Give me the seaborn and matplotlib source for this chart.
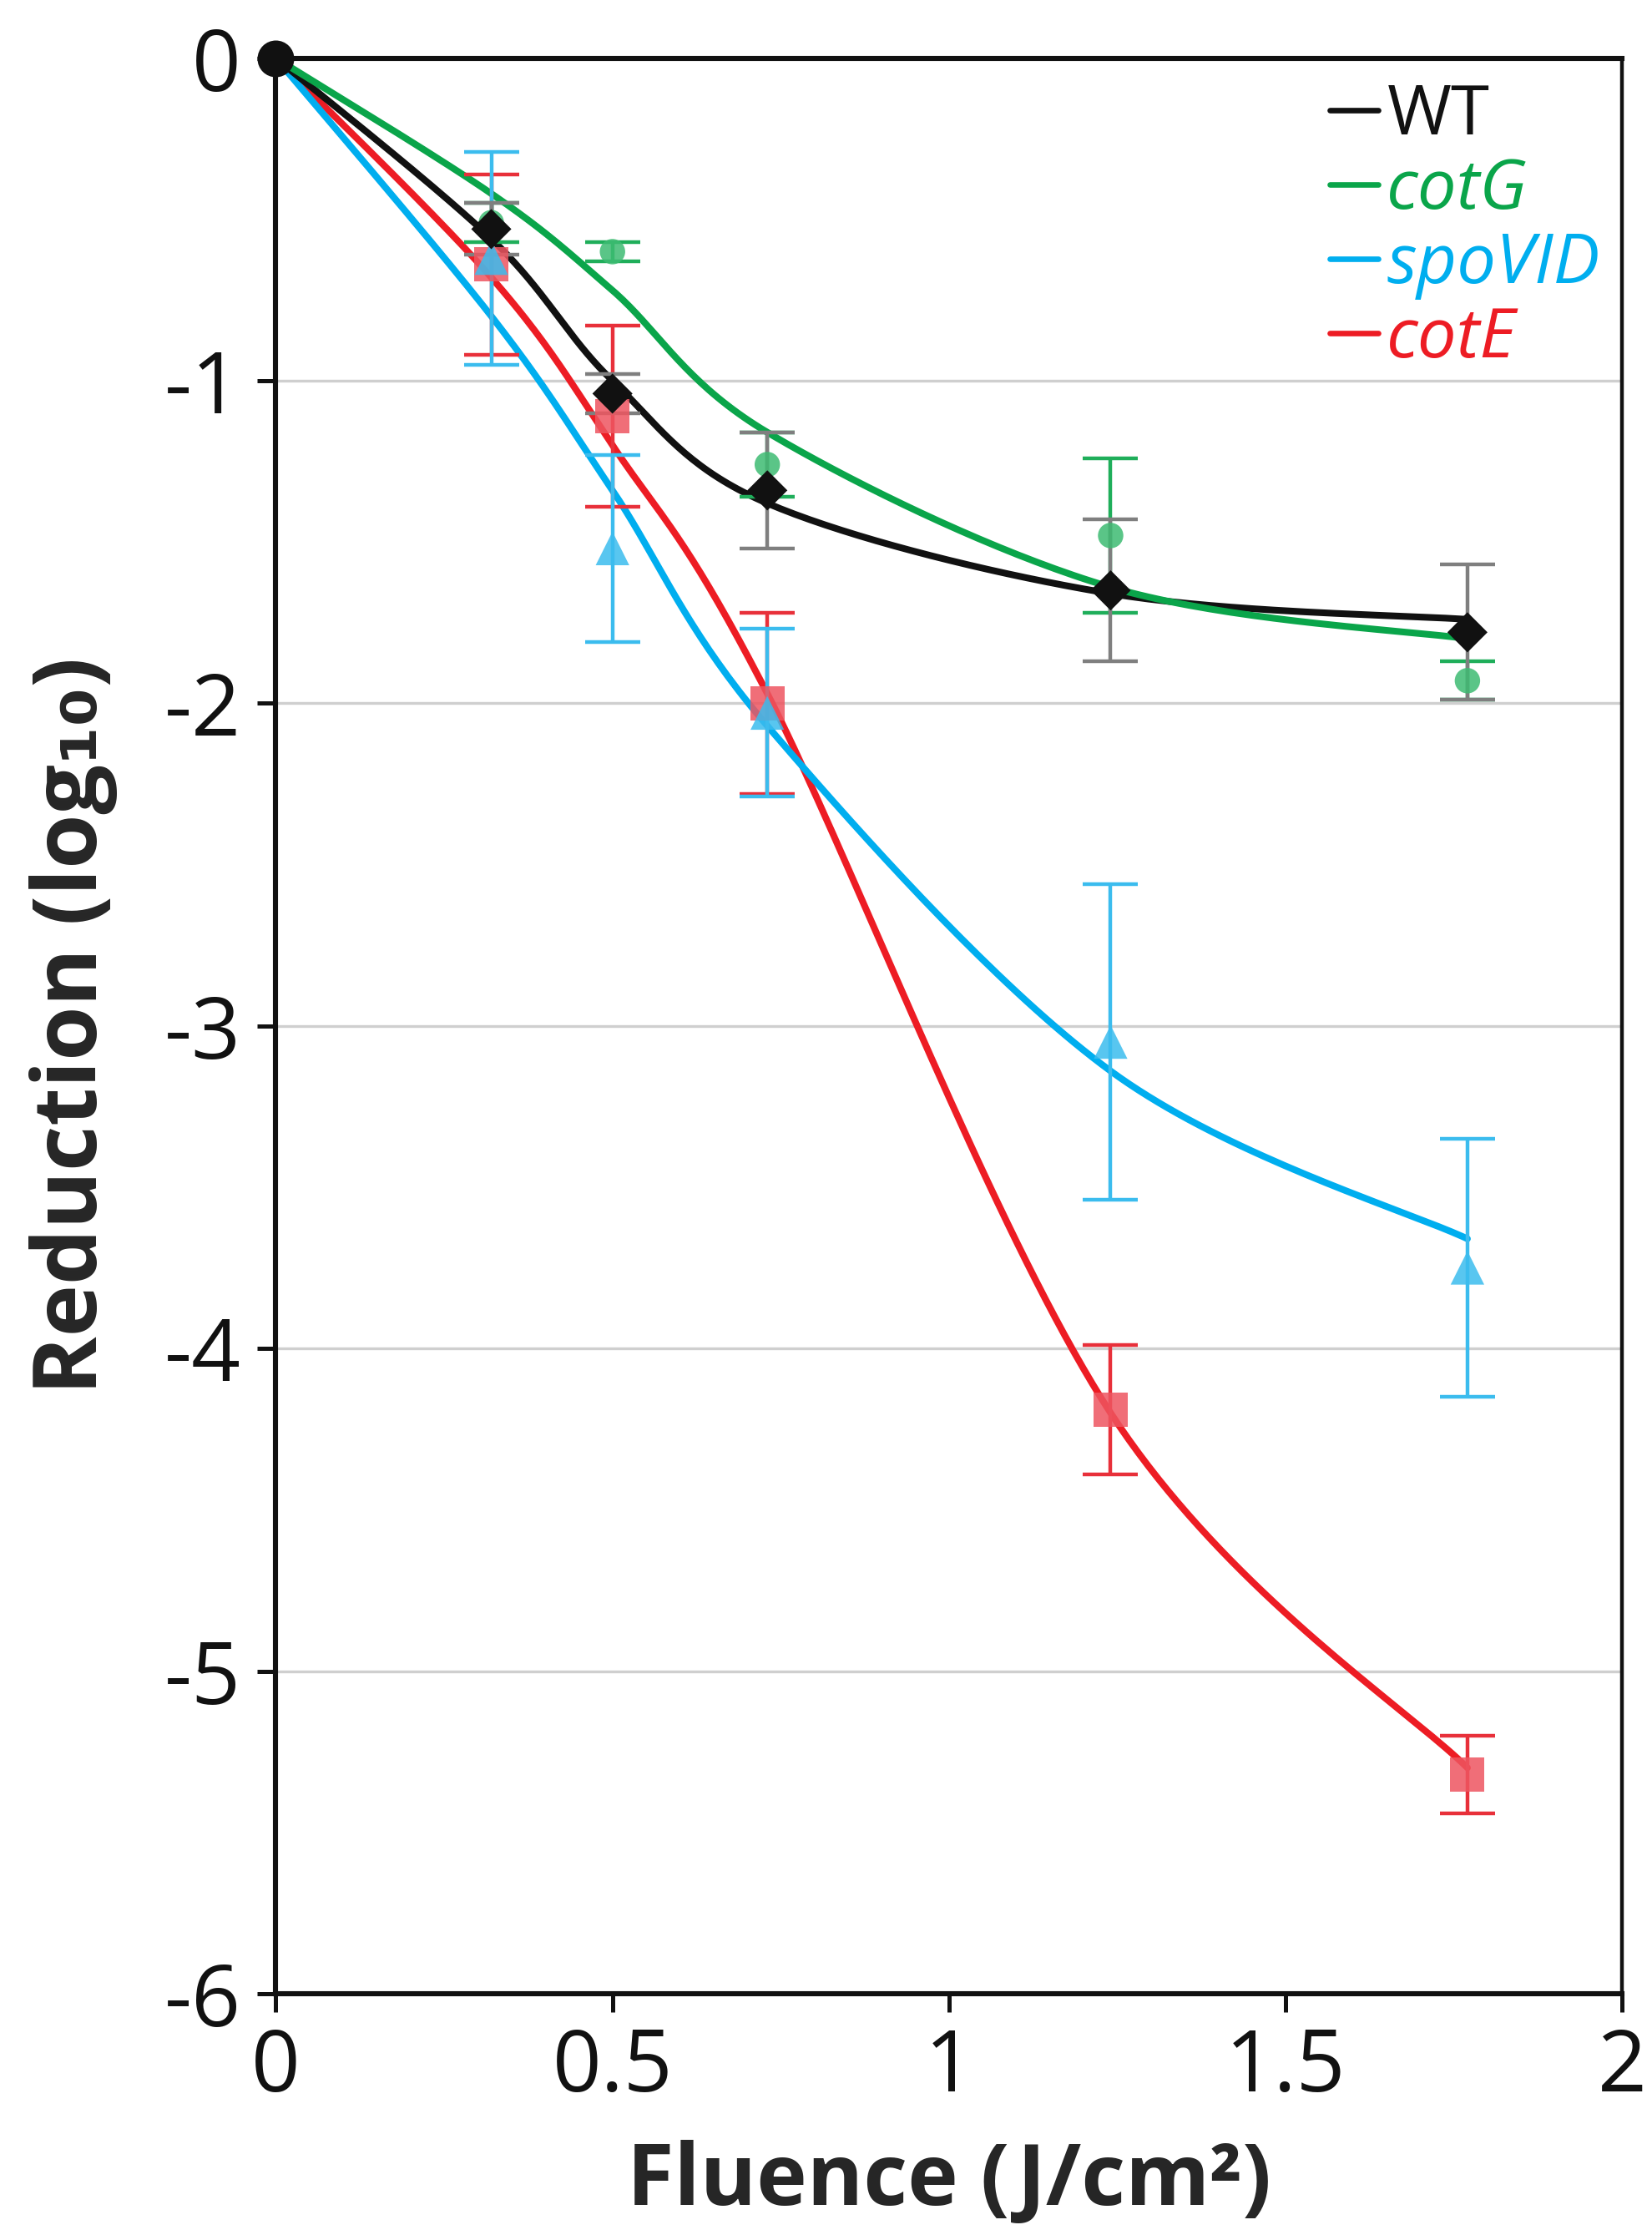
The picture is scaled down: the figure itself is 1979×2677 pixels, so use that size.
import matplotlib
matplotlib.use("Agg")
import matplotlib.pyplot as plt
from matplotlib.lines import Line2D
import seaborn as sns
import numpy as np
import pandas as pd

# ---- data ----
strains = ["WT", "cotG", "spoVID", "cotE"]
fluence = [0.32, 0.5, 0.73, 1.24, 1.77]

# measured means and error bars
wt_mean = [-0.53, -1.04, -1.34, -1.65, -1.78]
wt_err = [0.08, 0.06, 0.18, 0.22, 0.21]
cotg_mean = [-0.51, -0.60, -1.26, -1.48, -1.93]
cotg_err = [0.06, 0.03, 0.10, 0.24, 0.06]
spovid_mean = [-0.62, -1.52, -2.03, -3.05, -3.75]
spovid_err = [0.33, 0.29, 0.26, 0.49, 0.40]
cote_mean = [-0.64, -1.11, -2.00, -4.19, -5.32]
cote_err = [0.28, 0.28, 0.28, 0.20, 0.12]

# fitted curve values (including origin)
fit_x = [0, 0.32, 0.5, 0.73, 1.24, 1.77]
wt_fit = [0, -0.56, -1.00, -1.38, -1.66, -1.74]
cotg_fit = [0, -0.42, -0.72, -1.16, -1.64, -1.80]
spovid_fit = [0, -0.80, -1.34, -2.07, -3.14, -3.66]
cote_fit = [0, -0.68, -1.20, -1.97, -4.20, -5.30]

line_colors = {"WT": "#111111", "cotG": "#0aa54a", "spoVID": "#00aeef", "cotE": "#ed1c24"}
marker_colors = {"WT": "#111111", "cotG": "#3dbb72", "spoVID": "#3bbcee", "cotE": "#ee5560"}
err_colors = {"WT": "#7f7f7f", "cotG": "#1fae5a", "spoVID": "#3bbcee", "cotE": "#e8303a"}
markers = {"WT": "D", "cotG": "o", "spoVID": "^", "cotE": "s"}
msize = {"WT": 150, "cotG": 120, "spoVID": 210, "cotE": 220}

means = {"WT": wt_mean, "cotG": cotg_mean, "spoVID": spovid_mean, "cotE": cote_mean}
errs = {"WT": wt_err, "cotG": cotg_err, "spoVID": spovid_err, "cotE": cote_err}
fits = {"WT": wt_fit, "cotG": cotg_fit, "spoVID": spovid_fit, "cotE": cote_fit}


def smooth(xs, ys, n=40):
    # Excel-style smoothed line: cubic Bezier through the given points
    p = np.column_stack([xs, ys]).astype(float)
    p = np.vstack([p[0], p, p[-1]])
    out = []
    t = np.linspace(0, 1, n)[:, None]
    for i in range(1, len(p) - 2):
        p0, p1, p2, p3 = p[i - 1], p[i], p[i + 1], p[i + 2]
        c1 = p1 + (p2 - p0) / 6
        c2 = p2 - (p3 - p1) / 6
        seg = ((1 - t) ** 3) * p1 + 3 * ((1 - t) ** 2) * t * c1 + 3 * (1 - t) * t ** 2 * c2 + t ** 3 * p2
        out.append(seg)
    out = np.vstack(out)
    return out[:, 0], out[:, 1]


sns.set_style("white")
plt.rcParams["font.family"] = ["Liberation Sans Narrow", "Open Sans", "DejaVu Sans"]

fig = plt.figure(figsize=(1979 / 200, 2677 / 200), dpi=200)
ax = fig.add_axes([0.167, 0.108, 0.815, 0.866])

# curves
for s in ["cotE", "spoVID", "WT", "cotG"]:
    cx, cy = smooth(fit_x, fits[s])
    curve = pd.DataFrame({"x": cx, "y": cy})
    sns.lineplot(data=curve, x="x", y="y", sort=False, color=line_colors[s],
                 linewidth=2.9, ax=ax, zorder=3)

# error bars and markers
rows = []
for s in strains:
    for x, m in zip(fluence, means[s]):
        rows.append({"strain": s, "fluence": x, "reduction": m})
df = pd.DataFrame(rows)

for s in ["cotE", "spoVID", "cotG", "WT"]:
    ax.errorbar(fluence, means[s], yerr=errs[s], fmt="none", ecolor=err_colors[s],
                elinewidth=1.6, capsize=12, capthick=1.6, zorder=4)
    sub = df[df["strain"] == s]
    sns.scatterplot(data=sub, x="fluence", y="reduction", marker=markers[s],
                    color=marker_colors[s], s=msize[s], edgecolor="none",
                    alpha=0.85 if s != "WT" else 1.0, ax=ax, zorder=5, legend=False)

# origin point
ax.scatter([0], [0], s=220, color="#111111", zorder=6, clip_on=False)

ax.set_xlim(0, 2)
ax.set_ylim(-6, 0)
ax.set_xticks([0, 0.5, 1, 1.5, 2])
ax.set_xticklabels(["0", "0.5", "1", "1.5", "2"])
ax.set_yticks([0, -1, -2, -3, -4, -5, -6])
ax.set_yticklabels(["0", "-1", "-2", "-3", "-4", "-5", "-6"])
ax.yaxis.grid(True, color="#cfcfcf", linewidth=1.2)
ax.set_axisbelow(True)
ax.tick_params(axis="both", direction="out", length=8, width=1.8, labelsize=37,
               colors="#111111", bottom=True, left=True)
ax.tick_params(axis="x", pad=6)
ax.tick_params(axis="y", pad=7)
for side in ["left", "bottom", "top"]:
    ax.spines[side].set_linewidth(2.2)
    ax.spines[side].set_color("#111111")
ax.spines["right"].set_linewidth(1.6)
ax.spines["right"].set_color("#111111")

ax.set_xlabel("Fluence (J/cm\u00b2)", fontsize=37, fontweight="bold",
              family=["Open Sans", "DejaVu Sans"], labelpad=12)
ax.set_ylabel("Reduction (log\u2081\u2080)", fontsize=38, fontweight="bold",
              family=["Open Sans", "DejaVu Sans"], labelpad=20)

handles = [Line2D([0], [0], color=line_colors[s], linewidth=2.4) for s in strains]
leg = ax.legend(handles, strains, loc="upper right", bbox_to_anchor=(1.03, 1.02),
                frameon=False, handlelength=0.7, handletextpad=0.12, labelspacing=0.08,
                prop={"family": ["Open Sans", "DejaVu Sans"], "size": 30})
for txt, s in zip(leg.get_texts(), strains):
    txt.set_color(line_colors[s])
    if s != "WT":
        txt.set_fontstyle("italic")

fig.savefig("out.png", dpi=200)
